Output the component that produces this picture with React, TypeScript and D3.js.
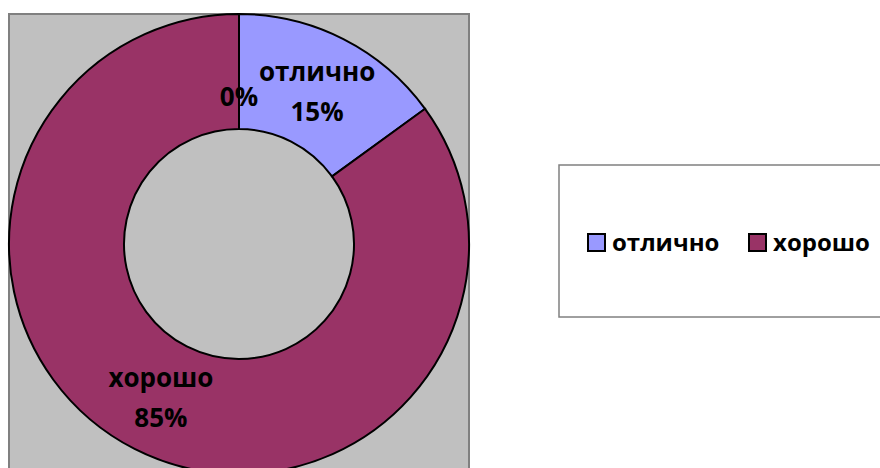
import React, { useEffect, useRef } from "react";
import * as d3 from "d3";

const categories = ["отлично", "хорошо", ""];
const values = [15, 85, 0];
const legendNames = ["отлично", "хорошо"];
const colors = ["#9999FF", "#993366", "#9999FF"];

const width = 880;
const height = 468;

function App() {
  const ref = useRef<SVGSVGElement>(null);

  useEffect(() => {
    const svg = d3.select(ref.current);
    svg.selectAll("*").remove();

    const cx = 239;
    const cy = 244;
    const outerRadius = 230;
    const innerRadius = 115;
    const font = "'Open Sans', 'DejaVu Sans', sans-serif";

    // plot area
    svg
      .append("rect")
      .attr("x", 9)
      .attr("y", 14)
      .attr("width", 460)
      .attr("height", 470)
      .attr("fill", "#C0C0C0")
      .attr("stroke", "#808080")
      .attr("stroke-width", 2);

    const g = svg.append("g").attr("transform", `translate(${cx},${cy})`);

    const data = categories.map((c, i) => ({ name: c, value: values[i], i }));
    const pie = d3
      .pie<any>()
      .sort(null)
      .value((d) => d.value);
    const arcs = pie(data);

    const arc = d3.arc<any>().innerRadius(innerRadius).outerRadius(outerRadius);

    g.selectAll("path")
      .data(arcs.filter((d) => d.data.value > 0))
      .enter()
      .append("path")
      .attr("d", arc)
      .attr("fill", (d) => colors[d.data.i])
      .attr("stroke", "black")
      .attr("stroke-width", 2);

    const labelArc = d3.arc<any>().innerRadius(172).outerRadius(172);
    const zeroArc = d3.arc<any>().innerRadius(148).outerRadius(148);
    const total = d3.sum(values);

    const labels = g
      .selectAll("g.lbl")
      .data(arcs)
      .enter()
      .append("g")
      .attr("transform", (d) => {
        const [x, y] = d.data.value > 0 ? labelArc.centroid(d) : zeroArc.centroid(d);
        return `translate(${x},${y})`;
      })
      .style("font-family", font)
      .style("font-weight", "bold")
      .style("font-size", "26px")
      .attr("text-anchor", "middle");

    labels.each(function (d) {
      const sel = d3.select(this);
      const pct = `${Math.round((d.data.value / total) * 100)}%`;
      if (d.data.name) {
        sel.append("text").attr("y", -10).text(d.data.name);
        sel.append("text").attr("y", 30).text(pct);
      } else {
        sel.append("text").attr("y", 10).text(pct);
      }
    });

    // legend
    svg
      .append("rect")
      .attr("x", 559)
      .attr("y", 165)
      .attr("width", 340)
      .attr("height", 152)
      .attr("fill", "white")
      .attr("stroke", "#808080")
      .attr("stroke-width", 1.5);

    const legendX = [588, 749];
    const leg = svg
      .selectAll("g.leg")
      .data(legendNames)
      .enter()
      .append("g")
      .attr("transform", (_, i) => `translate(${legendX[i]},234)`);
    leg
      .append("rect")
      .attr("width", 17)
      .attr("height", 17)
      .attr("fill", (_, i) => colors[i])
      .attr("stroke", "black")
      .attr("stroke-width", 2);
    leg
      .append("text")
      .attr("x", 24)
      .attr("y", 17)
      .style("font-family", font)
      .style("font-weight", "bold")
      .style("font-size", "24px")
      .text((d) => d);
  }, []);

  return (
    <svg
      ref={ref}
      width={width}
      height={height}
      style={{ position: "absolute", left: 0, top: 0, background: "white" }}
    />
  );
}

export default App;
